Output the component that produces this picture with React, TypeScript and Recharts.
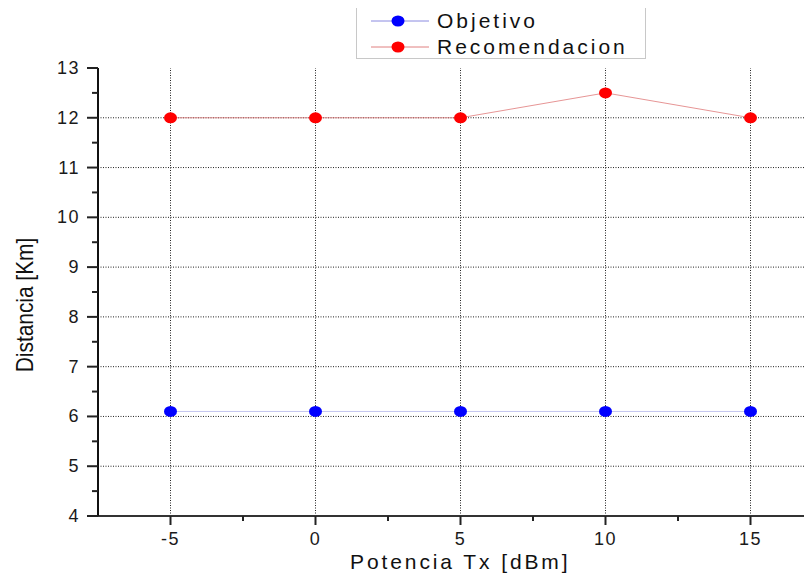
import { LineChart, Line, XAxis, YAxis, ReferenceLine, Legend } from 'recharts';

const potencia = [-5, 0, 5, 10, 15];
const objetivo = [6.1, 6.1, 6.1, 6.1, 6.1];
const recomendacion = [12, 12, 12, 12.5, 12];

const xMajor = [-5, 0, 5, 10, 15];
const xTicks = [-7.5, -5, -2.5, 0, 2.5, 5, 7.5, 10, 12.5, 15, 17.5];
const yMajor = [4, 5, 6, 7, 8, 9, 10, 11, 12, 13];
const yTicks = [4, 4.5, 5, 5.5, 6, 6.5, 7, 7.5, 8, 8.5, 9, 9.5, 10, 10.5, 11, 11.5, 12, 12.5, 13];
const yGrid = [5, 6, 7, 8, 9, 10, 11, 12];

const data = potencia.map((p, i) => ({
  potencia: p,
  objetivo: objetivo[i],
  recomendacion: recomendacion[i],
}));

const FONT = '"Liberation Sans", Arial, sans-serif';

// major ticks get a label, minor ones only a short mark
const XTick = (props: any) => {
  const { x, y, payload } = props;
  const major = xMajor.includes(payload.value);
  if (payload.value === -7.5 || payload.value === 17.5) return <g />;
  return (
    <g>
      <line x1={x} y1={y} x2={x} y2={y + (major ? 9 : 5)} stroke="#222" strokeWidth={2} />
      {major && (
        <text x={x} y={y + 29} textAnchor="middle" fontFamily={FONT} fontSize={18} letterSpacing={1.5} fill="#1a1a1a">
          {payload.value}
        </text>
      )}
    </g>
  );
};

const YTick = (props: any) => {
  const { x, y, payload } = props;
  const major = yMajor.includes(payload.value);
  return (
    <g>
      <line x1={x - (major ? 11 : 6)} y1={y} x2={x} y2={y} stroke="#222" strokeWidth={2} />
      {major && (
        <text x={x - 18} y={y + 6} textAnchor="end" fontFamily={FONT} fontSize={18} letterSpacing={1.5} fill="#1a1a1a">
          {payload.value}
        </text>
      )}
    </g>
  );
};

const Dot = ({ cx, cy, fill }: any) => <ellipse cx={cx} cy={cy} rx={6.5} ry={5.5} fill={fill} />;

const legendItems = [
  { name: 'Objetivo', line: '#8a8ae0', dot: '#0000ff' },
  { name: 'Recomendacion', line: '#e08080', dot: '#ff0000' },
];

const LegendBox = () => (
  <div
    style={{
      width: 290,
      height: 54,
      border: '1px solid #c8c8c8',
      borderTop: '1px solid #d8d8d8',
      background: '#fff',
      boxSizing: 'border-box',
      padding: '2px 0 0 12px',
      fontFamily: FONT,
    }}
  >
    {legendItems.map((it) => (
      <div key={it.name} style={{ display: 'flex', alignItems: 'center', height: 26 }}>
        <svg width={62} height={14} style={{ flexShrink: 0 }}>
          <line x1={2} y1={7} x2={60} y2={7} stroke={it.line} strokeWidth={1} />
          <ellipse cx={29} cy={7} rx={6.5} ry={5.5} fill={it.dot} />
        </svg>
        <span style={{ fontSize: 21, letterSpacing: 3, color: '#111', marginLeft: 6, lineHeight: '26px' }}>
          {it.name}
        </span>
      </div>
    ))}
  </div>
);

export default function App() {
  return (
    <div style={{ margin: -8, width: 812, height: 582, overflow: 'hidden', position: 'relative', background: '#fff' }}>
      <LineChart width={838} height={582} data={data} margin={{ top: 68, right: 15, bottom: 26, left: 0 }}>
        <XAxis
          dataKey="potencia"
          type="number"
          domain={[-7.5, 17.5]}
          ticks={xTicks}
          interval={0}
          tickSize={0}
          tickMargin={0}
          tickLine={false}
          tick={<XTick />}
          axisLine={{ stroke: '#333', strokeWidth: 2 }}
          height={40}
          allowDataOverflow
        />
        <YAxis
          type="number"
          domain={[4, 13]}
          ticks={yTicks}
          interval={0}
          tickSize={0}
          tickMargin={0}
          tickLine={false}
          tick={<YTick />}
          axisLine={{ stroke: '#111', strokeWidth: 2 }}
          width={98}
          allowDataOverflow
        />
        {yGrid.map((v) => (
          <ReferenceLine key={'h' + v} y={v} stroke="#222" strokeWidth={1} strokeDasharray="1 1.5" />
        ))}
        {xMajor.map((v) => (
          <ReferenceLine key={'v' + v} x={v} stroke="#222" strokeWidth={1} strokeDasharray="1 1.5" />
        ))}
        <Line
          dataKey="objetivo"
          name="Objetivo"
          stroke="#c4c6f0"
          strokeWidth={1}
          dot={<Dot fill="#0000ff" />}
          activeDot={false}
          isAnimationActive={false}
        />
        <Line
          dataKey="recomendacion"
          name="Recomendacion"
          stroke="#e07a7a"
          strokeWidth={0.8}
          dot={<Dot fill="#ff0000" />}
          activeDot={false}
          isAnimationActive={false}
        />
        <Legend
          layout="vertical"
          align="center"
          verticalAlign="middle"
          content={<LegendBox />}
          wrapperStyle={{ top: 5, left: 356, width: 290 }}
        />
      </LineChart>
      <div
        style={{
          position: 'absolute',
          left: 350,
          top: 551,
          fontFamily: FONT,
          fontSize: 21,
          lineHeight: '22px',
          letterSpacing: 2.9,
          color: '#111',
          whiteSpace: 'nowrap',
        }}
      >
        Potencia Tx [dBm]
      </div>
      <svg style={{ position: 'absolute', left: 0, top: 0 }} width={48} height={582}>
        <text
          transform="translate(33 305) rotate(-90) scale(0.87 1)"
          textAnchor="middle"
          fontFamily={FONT}
          fontSize={24}
          fill="#111"
        >
          Distancia [Km]
        </text>
      </svg>
    </div>
  );
}
